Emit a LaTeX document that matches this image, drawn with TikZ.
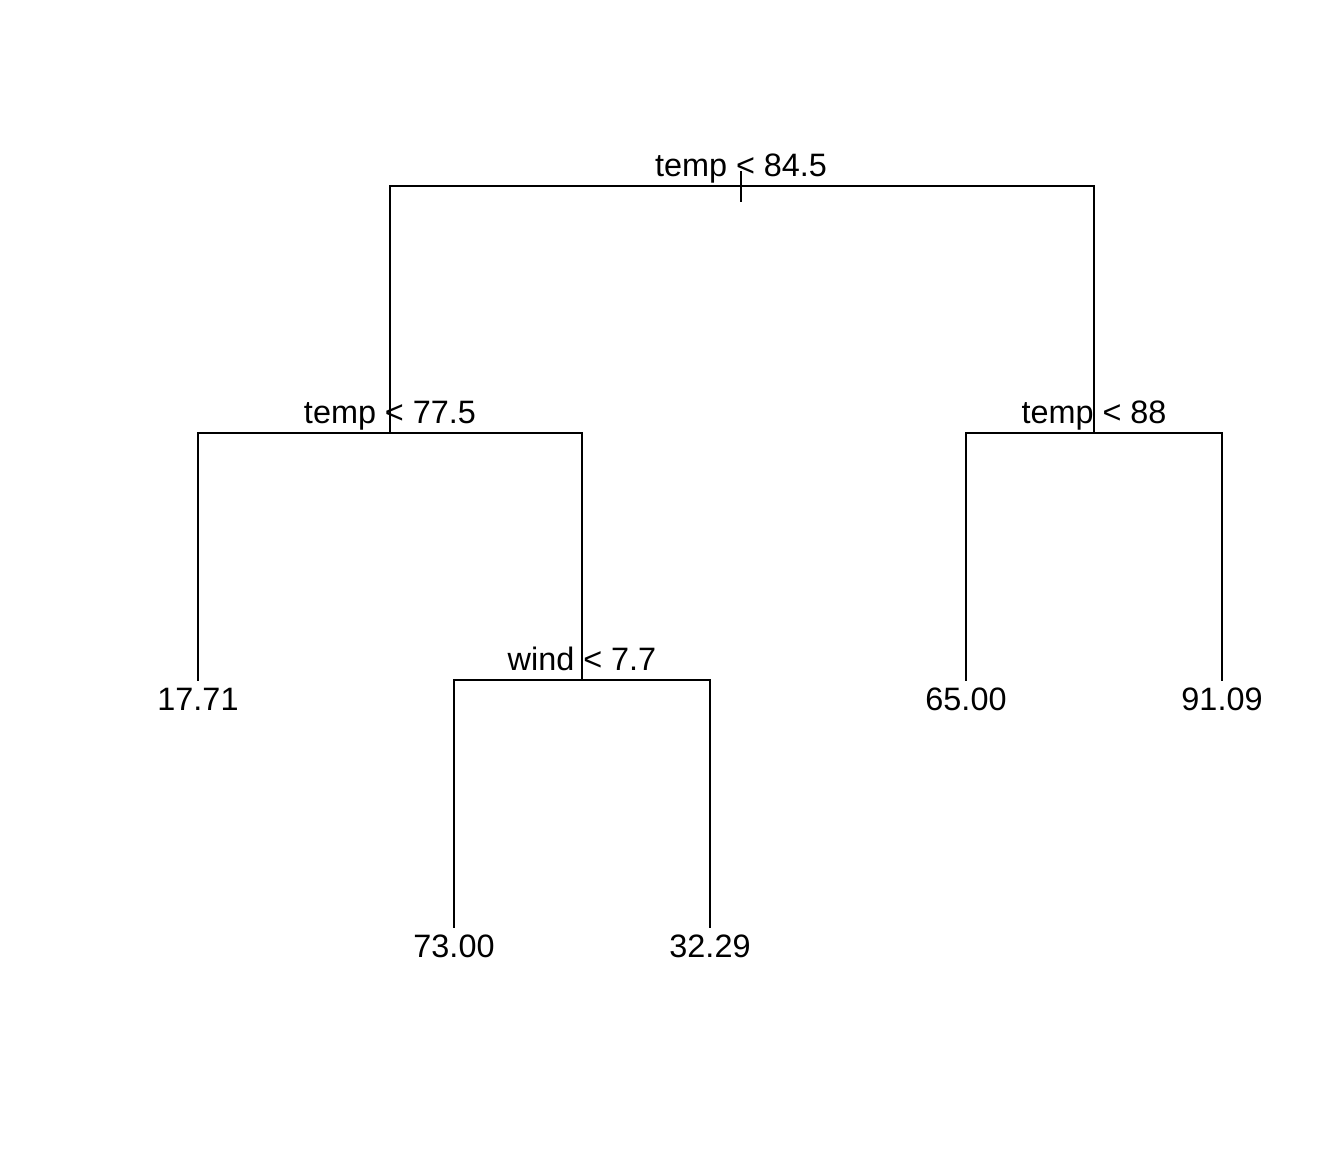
\documentclass[tikz,border=0pt]{standalone}
\usepackage{fontspec}
\setmainfont{Liberation Sans}
\begin{document}
\begin{tikzpicture}[x=0.5pt,y=-0.5pt,
  edge/.style={line width=1pt,line cap=rect},
  lbl/.style={anchor=base,inner sep=0pt,font=\fontsize{16.2pt}{19pt}\selectfont}]
\useasboundingbox (0,0) rectangle (1344,1152);
% tree nodes (positions)
\coordinate (root) at (741,186);
\coordinate (a) at (390,433);
\coordinate (b) at (1094,433);
\coordinate (a1) at (198,680);
\coordinate (a2) at (582,680);
\coordinate (b1) at (966,680);
\coordinate (b2) at (1222,680);
\coordinate (a21) at (454,927);
\coordinate (a22) at (710,927);
\coordinate (rtop) at (741,172);
\coordinate (rbot) at (741,201);
% labels
\node[lbl] (lroot) at (741,176) {temp < 84.5};
\node[lbl] (la) at (390,423) {temp < 77.5};
\node[lbl] (lb) at (1094,423) {temp < 88};
\node[lbl] (la2) at (582,670) {wind < 7.7};
\node[lbl] (la1) at (198,710) {17.71};
\node[lbl] (lb1) at (966,710) {65.00};
\node[lbl] (lb2) at (1222,710) {91.09};
\node[lbl] (la21) at (454,957) {73.00};
\node[lbl] (la22) at (710,957) {32.29};
% edges
\draw[edge] (rtop) -- (rbot);
\draw[edge] (a) -- (a|-root) -- (b|-root) -- (b);
\draw[edge] (a1) -- (a1|-a) -- (a2|-a) -- (a2);
\draw[edge] (b1) -- (b1|-b) -- (b2|-b) -- (b2);
\draw[edge] (a21) -- (a21|-a2) -- (a22|-a2) -- (a22);
\end{tikzpicture}
\end{document}
